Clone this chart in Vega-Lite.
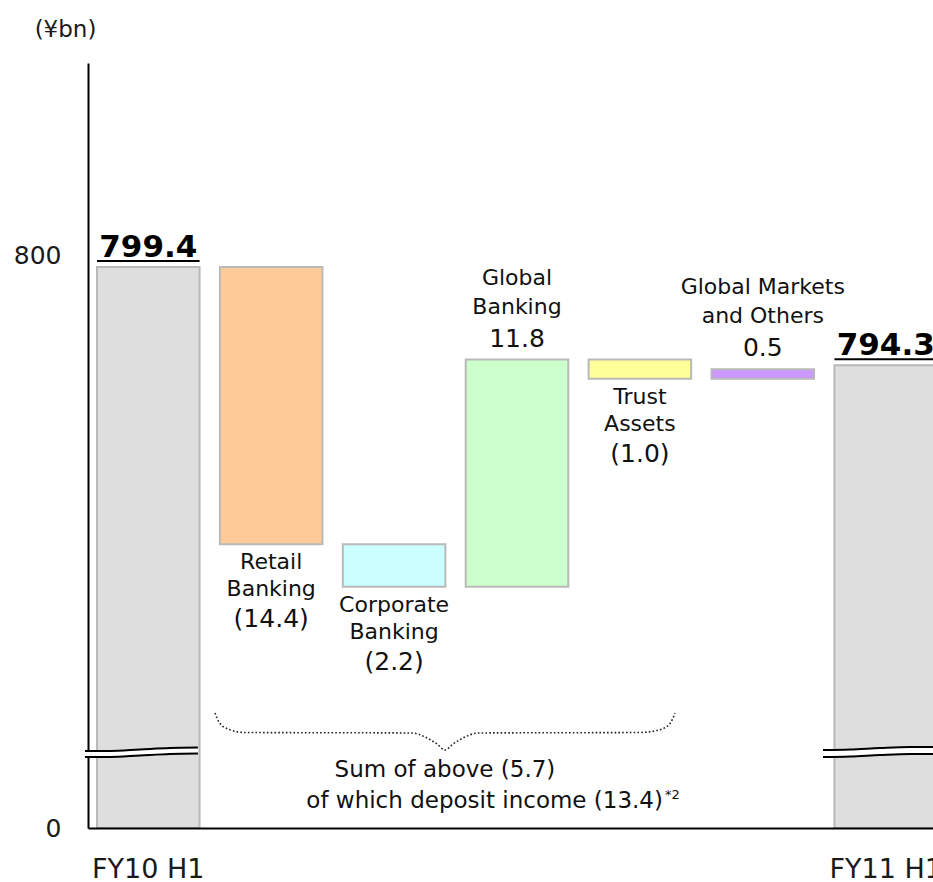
{
  "$schema": "https://vega.github.io/schema/vega-lite/v6.json",
  "autosize": {"type": "none"},
  "padding": {"left": 88, "top": 65, "right": 0, "bottom": 54},
  "width": 845,
  "height": 763,
  "background": "white",
  "config": {"font": "DejaVu Sans", "view": {"stroke": null}},
  "datasets": {
    "bars": [
      {"item": "FY10 H1", "start": 0, "end": 799.4, "kind": "total", "name": "", "amount": "799.4"},
      {"item": "Retail Banking", "start": 799.4, "end": 785.0, "kind": "down", "name": "Retail\nBanking", "amount": "(14.4)"},
      {"item": "Corporate Banking", "start": 785.0, "end": 782.8, "kind": "down", "name": "Corporate\nBanking", "amount": "(2.2)"},
      {"item": "Global Banking", "start": 782.8, "end": 794.6, "kind": "up", "name": "Global\nBanking", "amount": "11.8"},
      {"item": "Trust Assets", "start": 794.6, "end": 793.6, "kind": "down", "name": "Trust\nAssets", "amount": "(1.0)"},
      {"item": "Global Markets and Others", "start": 793.6, "end": 794.1, "kind": "up", "name": "Global Markets\nand Others", "amount": "0.5"},
      {"item": "FY11 H1", "start": 0, "end": 794.3, "kind": "total", "name": "", "amount": "794.3"}
    ],
    "brace": [
      {"x": 0.543, "y": 776.242},
      {"x": 0.575, "y": 775.774},
      {"x": 0.649, "y": 775.41},
      {"x": 0.787, "y": 775.229},
      {"x": 2.146, "y": 775.203},
      {"x": 2.252, "y": 774.995},
      {"x": 2.349, "y": 774.631},
      {"x": 2.414, "y": 774.319},
      {"x": 2.479, "y": 774.631},
      {"x": 2.577, "y": 774.995},
      {"x": 2.683, "y": 775.203},
      {"x": 4.001, "y": 775.229},
      {"x": 4.18, "y": 775.41},
      {"x": 4.253, "y": 775.774},
      {"x": 4.286, "y": 776.242}
    ],
    "breaks": [
      {"brk": "a", "x": -0.515, "hi": 774.268, "lo": 773.956},
      {"brk": "a", "x": -0.312, "hi": 774.268, "lo": 773.956},
      {"brk": "a", "x": -0.068, "hi": 774.345, "lo": 774.034},
      {"brk": "a", "x": 0.176, "hi": 774.423, "lo": 774.112},
      {"brk": "a", "x": 0.404, "hi": 774.449, "lo": 774.138},
      {"brk": "b", "x": 5.49, "hi": 774.319, "lo": 773.956},
      {"brk": "b", "x": 5.71, "hi": 774.345, "lo": 773.982},
      {"brk": "b", "x": 5.954, "hi": 774.423, "lo": 774.06},
      {"brk": "b", "x": 6.198, "hi": 774.475, "lo": 774.112},
      {"brk": "b", "x": 6.523, "hi": 774.475, "lo": 774.112}
    ],
    "notes": [
      {"x": 2.414, "y": 774.319, "line1": "Sum of above (5.7)", "line2": "of which deposit income (13.4)", "sup": "*2"}
    ]
  },
  "layer": [
    {
      "data": {"name": "bars"},
      "encoding": {
        "x": {
          "field": "item", "type": "nominal", "sort": null,
          "scale": {"range": [0, 858], "paddingInner": 0.1655, "paddingOuter": 0.0733},
          "axis": {
            "title": null, "values": ["FY10 H1", "FY11 H1"], "labelAngle": 0,
            "labelFontSize": 27, "labelColor": "#1a1a1a", "labelPadding": 28,
            "ticks": false, "tickSize": 0, "domainColor": "#000000", "domainWidth": 2,
            "grid": false, "zindex": 1
          }
        }
      },
      "layer": [
        {
          "mark": {"type": "bar", "stroke": "#b9b9b9", "strokeWidth": 2},
          "encoding": {
            "y": {
              "field": "start", "type": "quantitative",
              "scale": {"type": "linear", "domain": [0, 50, 773.8, 810], "range": [763, 696, 695, -2], "zero": false, "nice": false},
              "axis": {
                "values": [0, 800], "title": "(¥bn)", "titleAngle": 0, "titleFontSize": 23,
                "titleFontWeight": "normal", "titleColor": "#1a1a1a", "titleX": -23, "titleY": -36,
                "titleAlign": "center", "titleBaseline": "middle",
                "labelFontSize": 25, "labelColor": "#1a1a1a", "labelPadding": 27,
                "ticks": false, "tickSize": 0, "domainColor": "#000000", "domainWidth": 2,
                "grid": false, "zindex": 0
              }
            },
            "y2": {"field": "end"},
            "color": {
              "field": "item", "type": "nominal",
              "scale": {
                "domain": ["FY10 H1", "Retail Banking", "Corporate Banking", "Global Banking", "Trust Assets", "Global Markets and Others", "FY11 H1"],
                "range": ["#dedede", "#fdca98", "#ccffff", "#ccffcc", "#ffff99", "#cc99ff", "#dedede"]
              },
              "legend": null
            }
          }
        },
        {
          "transform": [{"filter": "datum.kind === 'total'"}],
          "mark": {"type": "bar", "color": "#000000", "yOffset": -7, "y2Offset": -5},
          "encoding": {
            "y": {"field": "end", "type": "quantitative", "scale": {"type": "linear", "domain": [0, 50, 773.8, 810], "range": [763, 696, 695, -2], "zero": false, "nice": false}},
            "y2": {"field": "end"}
          }
        },
        {
          "transform": [{"filter": "datum.kind === 'total'"}],
          "mark": {"type": "text", "fontSize": 31, "fontWeight": "bold", "color": "#000000", "baseline": "alphabetic", "dy": -10},
          "encoding": {
            "y": {"field": "end", "type": "quantitative", "scale": {"type": "linear", "domain": [0, 50, 773.8, 810], "range": [763, 696, 695, -2], "zero": false, "nice": false}},
            "text": {"field": "amount"}
          }
        },
        {
          "transform": [{"filter": "datum.kind === 'down'"}],
          "mark": {"type": "text", "fontSize": 22, "color": "#111111", "baseline": "alphabetic", "dy": 25, "lineBreak": "\n", "lineHeight": 27},
          "encoding": {
            "y": {"field": "end", "type": "quantitative", "scale": {"type": "linear", "domain": [0, 50, 773.8, 810], "range": [763, 696, 695, -2], "zero": false, "nice": false}},
            "text": {"field": "name"}
          }
        },
        {
          "transform": [{"filter": "datum.kind === 'down'"}],
          "mark": {"type": "text", "fontSize": 25, "color": "#111111", "baseline": "alphabetic", "dy": 83},
          "encoding": {
            "y": {"field": "end", "type": "quantitative", "scale": {"type": "linear", "domain": [0, 50, 773.8, 810], "range": [763, 696, 695, -2], "zero": false, "nice": false}},
            "text": {"field": "amount"}
          }
        },
        {
          "transform": [{"filter": "datum.kind === 'up'"}],
          "mark": {"type": "text", "fontSize": 22, "color": "#111111", "baseline": "alphabetic", "dy": -75, "lineBreak": "\n", "lineHeight": 29},
          "encoding": {
            "y": {"field": "end", "type": "quantitative", "scale": {"type": "linear", "domain": [0, 50, 773.8, 810], "range": [763, 696, 695, -2], "zero": false, "nice": false}},
            "text": {"field": "name"}
          }
        },
        {
          "transform": [{"filter": "datum.kind === 'up'"}],
          "mark": {"type": "text", "fontSize": 25, "color": "#111111", "baseline": "alphabetic", "dy": -13},
          "encoding": {
            "y": {"field": "end", "type": "quantitative", "scale": {"type": "linear", "domain": [0, 50, 773.8, 810], "range": [763, 696, 695, -2], "zero": false, "nice": false}},
            "text": {"field": "amount"}
          }
        }
      ]
    },
    {
      "layer": [
        {
          "data": {"name": "breaks"},
          "mark": {"type": "area", "fill": "white", "interpolate": "monotone"},
          "encoding": {
            "x": {"field": "x", "type": "quantitative", "scale": {"domain": [-0.4906, 6.4907], "range": [0, 858], "zero": false, "nice": false}, "axis": null},
            "y": {"field": "hi", "type": "quantitative", "scale": {"type": "linear", "domain": [0, 50, 773.8, 810], "range": [763, 696, 695, -2], "zero": false, "nice": false}},
            "y2": {"field": "lo"},
            "detail": {"field": "brk"}
          }
        },
        {
          "data": {"name": "breaks"},
          "mark": {"type": "line", "stroke": "#000000", "strokeWidth": 2, "interpolate": "monotone"},
          "encoding": {
            "x": {"field": "x", "type": "quantitative", "scale": {"domain": [-0.4906, 6.4907], "range": [0, 858], "zero": false, "nice": false}, "axis": null},
            "y": {"field": "hi", "type": "quantitative", "scale": {"type": "linear", "domain": [0, 50, 773.8, 810], "range": [763, 696, 695, -2], "zero": false, "nice": false}},
            "detail": {"field": "brk"}
          }
        },
        {
          "data": {"name": "breaks"},
          "mark": {"type": "line", "stroke": "#000000", "strokeWidth": 2, "interpolate": "monotone"},
          "encoding": {
            "x": {"field": "x", "type": "quantitative", "scale": {"domain": [-0.4906, 6.4907], "range": [0, 858], "zero": false, "nice": false}, "axis": null},
            "y": {"field": "lo", "type": "quantitative", "scale": {"type": "linear", "domain": [0, 50, 773.8, 810], "range": [763, 696, 695, -2], "zero": false, "nice": false}},
            "detail": {"field": "brk"}
          }
        },
        {
          "data": {"name": "brace"},
          "mark": {"type": "line", "stroke": "#222222", "strokeWidth": 1.6, "strokeDash": [1.6, 2.2], "interpolate": "monotone"},
          "encoding": {
            "x": {"field": "x", "type": "quantitative", "scale": {"domain": [-0.4906, 6.4907], "range": [0, 858], "zero": false, "nice": false}, "axis": null},
            "y": {"field": "y", "type": "quantitative", "scale": {"type": "linear", "domain": [0, 50, 773.8, 810], "range": [763, 696, 695, -2], "zero": false, "nice": false}}
          }
        },
        {
          "data": {"name": "notes"},
          "mark": {"type": "text", "fontSize": 23, "color": "#111111", "baseline": "alphabetic", "dy": 27},
          "encoding": {
            "x": {"field": "x", "type": "quantitative", "scale": {"domain": [-0.4906, 6.4907], "range": [0, 858], "zero": false, "nice": false}, "axis": null},
            "y": {"field": "y", "type": "quantitative", "scale": {"type": "linear", "domain": [0, 50, 773.8, 810], "range": [763, 696, 695, -2], "zero": false, "nice": false}},
            "text": {"field": "line1"}
          }
        },
        {
          "data": {"name": "notes"},
          "mark": {"type": "text", "fontSize": 23, "color": "#111111", "baseline": "alphabetic", "align": "right", "dx": 218, "dy": 58},
          "encoding": {
            "x": {"field": "x", "type": "quantitative", "scale": {"domain": [-0.4906, 6.4907], "range": [0, 858], "zero": false, "nice": false}, "axis": null},
            "y": {"field": "y", "type": "quantitative", "scale": {"type": "linear", "domain": [0, 50, 773.8, 810], "range": [763, 696, 695, -2], "zero": false, "nice": false}},
            "text": {"field": "line2"}
          }
        },
        {
          "data": {"name": "notes"},
          "mark": {"type": "text", "fontSize": 13, "color": "#111111", "baseline": "alphabetic", "align": "left", "dx": 220, "dy": 49},
          "encoding": {
            "x": {"field": "x", "type": "quantitative", "scale": {"domain": [-0.4906, 6.4907], "range": [0, 858], "zero": false, "nice": false}, "axis": null},
            "y": {"field": "y", "type": "quantitative", "scale": {"type": "linear", "domain": [0, 50, 773.8, 810], "range": [763, 696, 695, -2], "zero": false, "nice": false}},
            "text": {"field": "sup"}
          }
        }
      ]
    }
  ],
  "resolve": {"scale": {"x": "independent"}}
}
